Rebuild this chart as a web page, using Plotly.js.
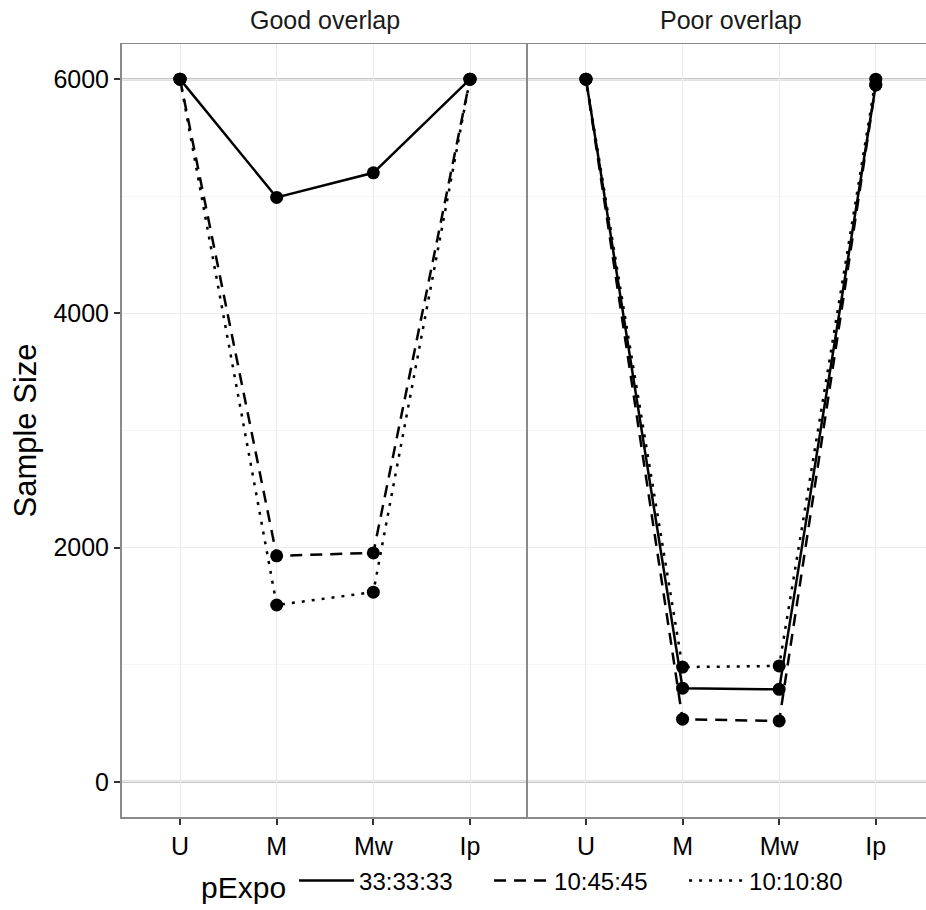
<!DOCTYPE html>
<html>
<head>
<meta charset="utf-8">
<script src="https://cdn.plot.ly/plotly-3.0.1.min.js"></script>
<style>html,body{margin:0;padding:0;background:#fff;}#chart{width:926px;height:910px;}</style>
</head>
<body>
<div id="chart"></div>
<script>
// ---- data ----
const categories = ['U', 'M', 'Mw', 'Ip'];
const panels = ['Good overlap', 'Poor overlap'];
const seriesNames = ['33:33:33', '10:45:45', '10:10:80'];
const good_33_33_33 = [6000, 4990, 5200, 6000];
const good_10_45_45 = [6000, 1930, 1955, 6000];
const good_10_10_80 = [6000, 1510, 1620, 6000];
const poor_33_33_33 = [6000, 800, 790, 5950];
const poor_10_45_45 = [6000, 535, 520, 5950];
const poor_10_10_80 = [6000, 980, 990, 6000];
const yTicks = [0, 2000, 4000, 6000];
const refLines = [0, 6000];

// ---- styles ----
const dashes = ['solid', '12px,8px', '3px,7px'];
const FONT = 'Liberation Sans, Arial, sans-serif';
const goodData = [good_33_33_33, good_10_45_45, good_10_10_80];
const poorData = [poor_33_33_33, poor_10_45_45, poor_10_10_80];

const traces = [];
[goodData, poorData].forEach((set, p) => {
  const xa = p === 0 ? 'x' : 'x2';
  const ya = p === 0 ? 'y' : 'y2';
  set.forEach((vals, i) => {
    traces.push({
      x: categories, y: vals, xaxis: xa, yaxis: ya, type: 'scatter', mode: 'lines',
      name: seriesNames[i], legendgroup: seriesNames[i], showlegend: p === 0,
      line: {color: '#000', width: 2.5, dash: dashes[i]}, hoverinfo: 'skip'
    });
  });
  set.forEach((vals, i) => {
    traces.push({
      x: categories, y: vals, xaxis: xa, yaxis: ya, type: 'scatter', mode: 'markers',
      showlegend: false, legendgroup: seriesNames[i],
      marker: {color: '#000', size: 13}, hoverinfo: 'skip'
    });
  });
});

const split = 406 / 804;
const xCommon = {
  type: 'category', categoryorder: 'array', categoryarray: categories,
  showgrid: true, gridcolor: '#ebebeb', gridwidth: 1,
  showline: true, linecolor: '#8a8a8a', linewidth: 1.5, mirror: true,
  ticks: 'outside', ticklen: 6, tickwidth: 2, tickcolor: '#333',
  tickfont: {family: FONT, size: 25, color: '#000'}, zeroline: false
};
const yCommon = {
  range: [-300, 6300], tickvals: yTicks, showgrid: true, gridcolor: '#ebebeb', gridwidth: 1,
  minor: {dtick: 1000, tick0: 0, showgrid: true, gridcolor: '#f5f5f5', gridwidth: 1},
  zeroline: false, showline: true, linecolor: '#8a8a8a', linewidth: 2
};

const shapes = [];
['y', 'y2'].forEach((ya, p) => {
  refLines.forEach(v => {
    shapes.push({type: 'line', xref: (p === 0 ? 'x' : 'x2') + ' domain', x0: 0, x1: 1,
      yref: ya, y0: v, y1: v, line: {color: '#c4c4c4', width: 2.5}, layer: 'below'});
  });
});

const layout = {
  width: 926, height: 910,
  margin: {l: 122, r: 0, t: 44, b: 93},
  paper_bgcolor: '#fff', plot_bgcolor: '#fff',
  font: {family: FONT, color: '#000'},
  xaxis: Object.assign({}, xCommon, {domain: [0, split], range: [-0.6, 3.6], anchor: 'y'}),
  xaxis2: Object.assign({}, xCommon, {domain: [split, 1], range: [-0.6, 3.52], anchor: 'y2'}),
  yaxis: Object.assign({}, yCommon, {
    domain: [0, 1], anchor: 'x',
    ticks: 'outside', ticklen: 6, tickwidth: 2, tickcolor: '#333',
    tickfont: {family: FONT, size: 25, color: '#000'},
    title: {text: 'Sample Size', font: {family: FONT, size: 31, color: '#000'}, standoff: 8}
  }),
  yaxis2: Object.assign({}, yCommon, {domain: [0, 1], anchor: 'x2', matches: 'y', showticklabels: false, ticks: ''}),
  shapes: shapes,
  annotations: panels.map((t, p) => ({
    text: t, xref: (p === 0 ? 'x' : 'x2') + ' domain', x: p === 0 ? 0.5 : 0.5 * 4.2 / 4.12, yref: 'paper', y: 1,
    yanchor: 'middle', yshift: 24, showarrow: false, font: {family: FONT, size: 25, color: '#1a1a1a'}
  })),
  showlegend: true,
  legend: {
    orientation: 'h', x: 199 / 926, xanchor: 'left', xref: 'container', y: 27 / 910, yanchor: 'middle', yref: 'container',
    bgcolor: 'rgba(0,0,0,0)',
    title: {text: 'pExpo', font: {family: FONT, size: 30, color: '#000'}, side: 'left'},
    font: {family: FONT, size: 24, color: '#000'}, itemwidth: 55, entrywidth: 125, tracegroupgap: 0
  }
};

Plotly.newPlot('chart', traces, layout, {staticPlot: true, displayModeBar: false});
</script>
</body>
</html>
